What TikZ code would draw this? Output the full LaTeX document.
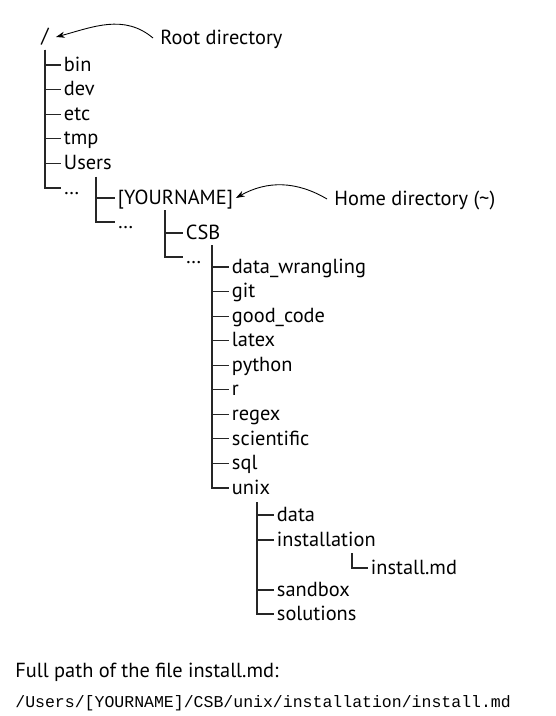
\documentclass[tikz,border=0pt]{standalone}
\usepackage{fontspec}
\setmainfont{PT Sans}
\setmonofont{Liberation Mono}
\usetikzlibrary{arrows.meta}

\begin{document}
\begin{tikzpicture}[x=0.02cm,y=0.02cm,
    font=\fontsize{11.6}{14}\selectfont,
    item/.style={anchor=west,inner sep=1.5pt,text height=1.4ex,text depth=0pt},
    branch/.style={line width=0.65pt,draw=black!85},
    callout/.style={line width=0.5pt,-{Stealth[length=5pt,width=3.5pt]}}]
  \useasboundingbox (0,0) rectangle (555,-716);
  % Root level
  \node[inner sep=4pt] (root) at (45,-37) {/};
  \node[item,inner sep=4pt] (rootlbl) at (153,-38) {Root directory};
  \coordinate (rootT) at (45,-50);
  \foreach \name [count=\i] in {bin,dev,etc,tmp,Users,…}
    \node[item] (r\i) at (61,{-65-24.6*(\i-1)}) {\name};
  \foreach \i in {1,...,6}
    \draw[branch] (rootT) |- (r\i.west);
  % Users
  \coordinate (usersT) at (96,-177);
  \node[item] (yourname) at (115,-198) {[YOURNAME]};
  \node[item] (u2) at (115,-222) {…};
  \draw[branch] (usersT) |- (yourname.west);
  \draw[branch] (usersT) |- (u2.west);
  % Home directory
  \node[item,inner sep=4pt] (homelbl) at (327,-199) {Home directory (\textasciitilde)};
  \coordinate (homeT) at (165,-210);
  \node[item] (csb) at (183,-233) {CSB};
  \node[item] (h2) at (183,-257) {…};
  \draw[branch] (homeT) |- (csb.west);
  \draw[branch] (homeT) |- (h2.west);
  % CSB
  \coordinate (csbT) at (212,-245);
  \foreach \name [count=\i] in {data\_wrangling,git,good\_code,latex,python,r,regex,scientific,sql,unix}
    \node[item] (c\i) at (229,{-267-24.55*(\i-1)}) {\name};
  \foreach \i in {1,...,10}
    \draw[branch] (csbT) |- (c\i.west);
  % unix
  \coordinate (unixT) at (257,-502);
  \node[item] (data) at (274,-515) {data};
  \node[item] (inst) at (274,-540) {installation};
  \node[item] (sandbox) at (274,-590) {sandbox};
  \node[item] (solutions) at (274,-614) {solutions};
  \foreach \n in {data,inst,sandbox,solutions}
    \draw[branch] (unixT) |- (\n.west);
  % installation
  \coordinate (instT) at (352,-553);
  \node[item] (md) at (368,-568) {install.md};
  \draw[branch] (instT) |- (md.west);
  % Callouts
  \draw[callout] (rootlbl.west) to[out=140,in=15] (root.east);
  \draw[callout] (homelbl.west) to[bend right=30] (yourname.east);
  % Full path
  \node[anchor=west,inner sep=0pt] (caption) at (15,-672) {Full path of the file install.md:};
  \node[anchor=west,inner sep=0pt,font=\ttfamily\fontsize{9.4}{11}\selectfont] (fullpath) at (15,-703) {/Users/[YOURNAME]/CSB/unix/installation/install.md};
\end{tikzpicture}
\end{document}
